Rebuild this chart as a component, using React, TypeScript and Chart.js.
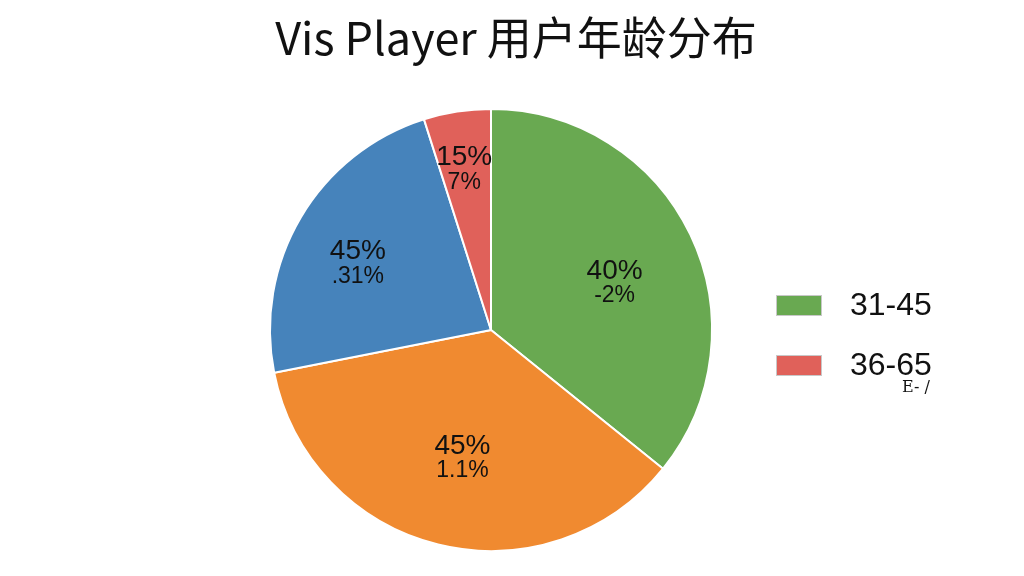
import { useEffect, useRef } from 'react';
import { Chart, ChartConfiguration, Plugin, registerables } from 'chart.js';

Chart.register(...registerables);

const title = 'Vis Player 用户年龄分布';
const ageGroups = ['31-45', '18-30', '46-60', '36-65'];
const shares = [35.8, 36.1, 23.2, 4.9];
const mainLabels = ['40%', '45%', '45%', '15%'];
const subLabels = ['-2%', '1.1%', '.31%', '7%'];
const legendGroups = ['31-45', '36-65'];
const legendNote = 'E- /';

const colors = ['#69a951', '#f08a30', '#4683bb', '#e0615a'];
// how far out each slice label sits, as a share of the radius
const labelRadius = [0.62, 0.54, 0.7, 0.79];

const FONT = "'Liberation Sans', Arial, sans-serif";

const topTitle: Plugin<'pie'> = {
  id: 'topTitle',
  afterDraw(chart) {
    const { ctx } = chart;
    ctx.save();
    ctx.fillStyle = '#111';
    ctx.font = "45px 'Noto Sans CJK SC', 'Noto Sans', sans-serif";
    ctx.textAlign = 'center';
    ctx.textBaseline = 'middle';
    ctx.fillText(title, 516, 38);
    ctx.restore();
  },
};

const sliceLabels: Plugin<'pie'> = {
  id: 'sliceLabels',
  afterDatasetsDraw(chart) {
    const { ctx } = chart;
    const meta = chart.getDatasetMeta(0);
    ctx.save();
    ctx.textAlign = 'center';
    ctx.textBaseline = 'middle';
    ctx.fillStyle = '#111';
    meta.data.forEach((el: any, i) => {
      const mid = (el.startAngle + el.endAngle) / 2;
      const r = el.outerRadius * labelRadius[i];
      const x = el.x + Math.cos(mid) * r;
      const y = el.y + Math.sin(mid) * r;
      ctx.font = `28px ${FONT}`;
      ctx.fillText(mainLabels[i], x, y);
      ctx.font = `23px ${FONT}`;
      ctx.fillText(subLabels[i], x, y + 25);
    });
    ctx.restore();
  },
};

const sideLegend: Plugin<'pie'> = {
  id: 'sideLegend',
  afterDraw(chart) {
    const { ctx } = chart;
    ctx.save();
    legendGroups.forEach((g, i) => {
      const idx = ageGroups.indexOf(g);
      const y = 305 + i * 60;
      ctx.fillStyle = colors[idx];
      ctx.strokeStyle = '#c8c8c8';
      ctx.lineWidth = 1;
      ctx.fillRect(776, y - 10, 46, 21);
      ctx.strokeRect(776.5, y - 9.5, 45, 20);
      ctx.fillStyle = '#111';
      ctx.font = `32px ${FONT}`;
      ctx.textAlign = 'left';
      ctx.textBaseline = 'middle';
      ctx.fillText(g, 850, y + 1);
    });
    ctx.font = "16px 'DejaVu Serif', serif";
    ctx.textAlign = 'left';
    ctx.textBaseline = 'middle';
    ctx.fillText(legendNote, 902, 388);
    ctx.restore();
  },
};

const AgePie = () => {
  const canvasRef = useRef<HTMLCanvasElement>(null);
  const chartRef = useRef<Chart<'pie'> | null>(null);

  useEffect(() => {
    if (!canvasRef.current) return;
    if (chartRef.current) chartRef.current.destroy();

    const config: ChartConfiguration<'pie', number[], string> = {
      type: 'pie',
      data: {
        labels: ageGroups,
        datasets: [{
          data: shares,
          backgroundColor: colors,
          borderColor: '#fff',
          borderWidth: 2,
        }],
      },
      options: {
        animation: false,
        responsive: false,
        layout: { padding: { left: 268, right: 310, top: 108, bottom: 24 } },
        plugins: {
          legend: { display: false },
          tooltip: { enabled: false },
          title: { display: false },
        },
      },
      plugins: [topTitle, sliceLabels, sideLegend],
    };

    chartRef.current = new Chart(canvasRef.current, config);
    return () => {
      chartRef.current?.destroy();
      chartRef.current = null;
    };
  }, []);

  return <canvas ref={canvasRef} width={1024} height={576} />;
};

export default function App() {
  return (
    <div style={{ position: 'fixed', left: 0, top: 0, width: 1024, height: 576, background: '#fff' }}>
      <AgePie />
    </div>
  );
}
